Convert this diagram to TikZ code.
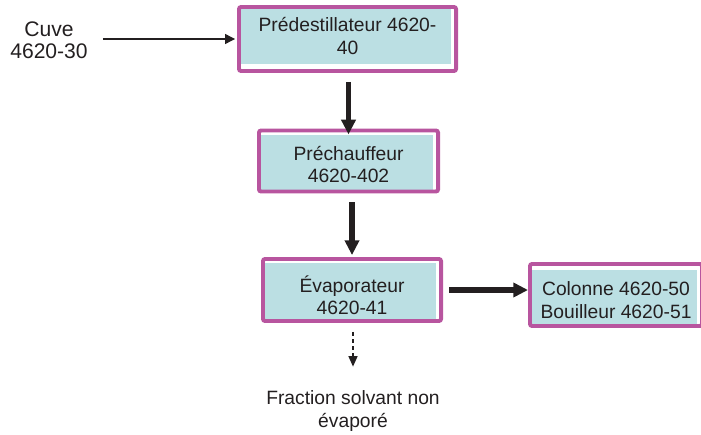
\documentclass[tikz,border=0pt]{standalone}
\usepackage{fontspec}
\setmainfont{Liberation Sans}
\usepackage{xcolor}
\usetikzlibrary{arrows.meta}

\definecolor{bordunite}{HTML}{B8559F}
\definecolor{fondunite}{HTML}{BBDFE3}
\definecolor{texte}{HTML}{231F20}

\tikzset{
  unite/.style 2 args={draw=bordunite, line width=2.8pt, rounded corners=1.5pt, fill=white, align=center,
    inner sep=0pt, text=texte, font=\fontsize{13.7}{16}\selectfont,
    path picture={\fill[fondunite, sharp corners] ([yshift=-#1]path picture bounding box.north west)
      rectangle ([xshift=-3.4pt,yshift=#2]path picture bounding box.south east);}},
  etiquette/.style={align=center, inner sep=0pt, text=texte, font=\fontsize{13.7}{16}\selectfont},
  flux/.style={texte, line width=4pt, -{Triangle[length=10.5pt,width=10pt]}},
  fleche/.style={texte, line width=0.9pt, -{Triangle[length=7pt,width=7pt]}},
  pointille/.style={texte, line width=0.8pt, dash pattern=on 3pt off 2pt, -{Triangle[length=7.5pt,width=6.5pt]}},
}

\begin{document}
\begin{tikzpicture}[x=0.025cm,y=-0.025cm]
\useasboundingbox (0,0) rectangle (701,434);

% Unites
\node[unite={1.6pt}{4.9pt}, minimum width=5.425cm, minimum height=1.6cm, text depth=4.2pt] (predist) at (347.5,39) {Prédestillateur 4620-\\40};
\node[unite={3.4pt}{0pt}, minimum width=4.475cm, minimum height=1.525cm, text height=31pt] (prechauf) at (348.5,161) {Préchauffeur\\4620-402};
\node[unite={3pt}{0pt}, minimum width=4.45cm, minimum height=1.55cm, text height=35.4pt] (evap) at (352,290) {Évaporateur\\4620-41};
\node[unite={4pt}{0pt}, minimum width=4.3cm, minimum height=1.55cm, text height=33pt] (colonne) at (616,295) {Colonne 4620-50\\Bouilleur 4620-51};

% Entree et sortie
\node[etiquette, font=\fontsize{15}{16}\selectfont] (cuve) at (49,40) {Cuve\\4620-30};
\node[etiquette] (fraction) at (353,411) {Fraction solvant non\\évaporé};

% Fleches
\draw[fleche, shorten <=10.6pt, shorten >=1.4pt] (cuve.east |- predist.west) -- (predist.west);
\draw[flux, shorten <=6.4pt, shorten >=-4.2pt] (predist.south -| prechauf.north) -- (prechauf.north);
\draw[flux, shorten <=6.4pt, shorten >=1.4pt] (prechauf.south -| evap.north) -- (evap.north);
\draw[flux, shorten <=4.3pt] (evap.east) -- (evap.east -| colonne.west);
\draw[pointille, shorten <=6.4pt, shorten >=17pt] (evap.south -| fraction.north) -- (fraction.north);
\end{tikzpicture}
\end{document}
